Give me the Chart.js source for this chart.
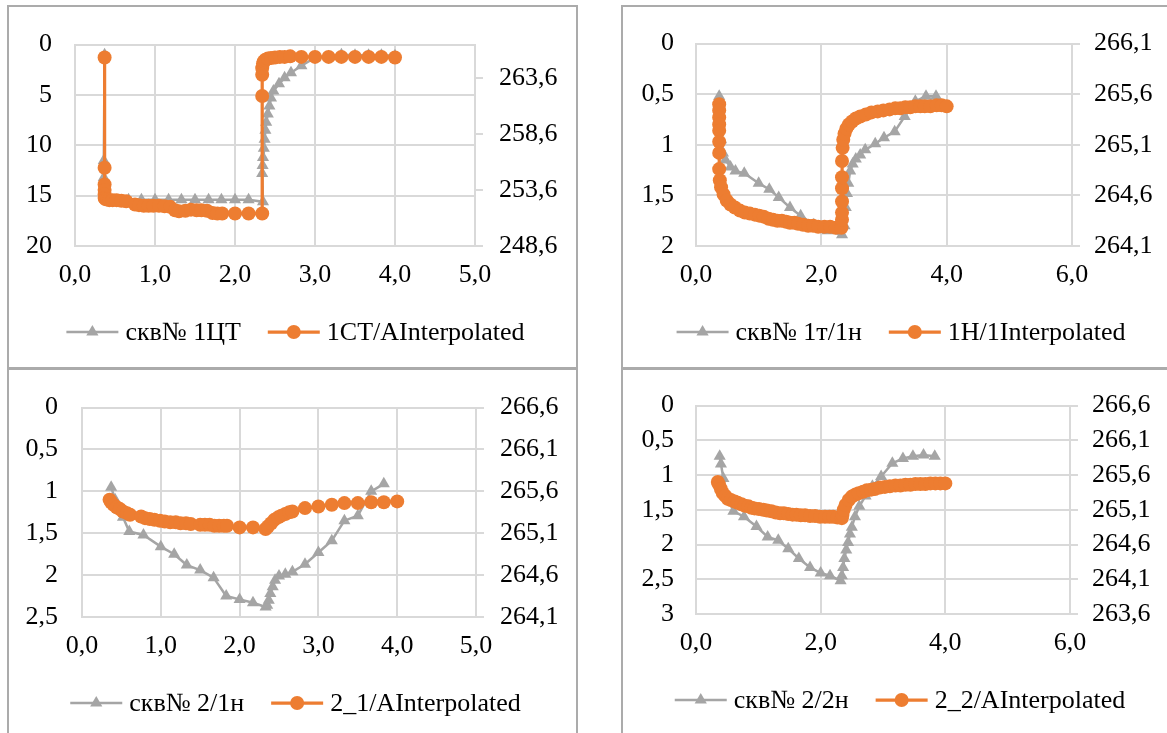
<!DOCTYPE html>
<html>
<head>
<meta charset="utf-8">
<script src="https://cdn.jsdelivr.net/npm/chart.js@4.4.1/dist/chart.umd.min.js"></script>
<style>
  body { margin: 0; background: #fff; width: 1167px; height: 733px; overflow: hidden; position: relative; }
  .frame { position: absolute; border: 2px solid #ababab; box-sizing: border-box; }
  canvas { position: absolute; }
</style>
</head>
<body>
<div class="frame" style="left:7px;top:5px;width:571px;height:365px"></div>
<div class="frame" style="left:621px;top:5px;width:600px;height:365px"></div>
<div class="frame" style="left:7px;top:367px;width:571px;height:400px"></div>
<div class="frame" style="left:621px;top:367px;width:600px;height:400px"></div>

<canvas id="chart1" width="568" height="362" style="left:8px;top:6px"></canvas>
<canvas id="chart2" width="545" height="362" style="left:622px;top:6px"></canvas>
<canvas id="chart3" width="568" height="365" style="left:8px;top:368px"></canvas>
<canvas id="chart4" width="545" height="365" style="left:622px;top:368px"></canvas>

<script>
// panel 1 - скв№ 1ЦТ
const p1GrayX = [0.37, 0.36, 0.36, 0.37, 0.38, 0.40, 0.45, 0.50, 0.67, 0.83, 1.00, 1.17, 1.33, 1.50, 1.67, 1.83, 2.00, 2.17, 2.35, 2.34, 2.345, 2.35, 2.36, 2.37, 2.38, 2.39, 2.41, 2.43, 2.45, 2.48, 2.55, 2.62, 2.70, 2.83, 3.00, 3.17, 3.33, 3.50, 3.67, 3.83, 4.00];
const p1GrayY = [1.0, 11.5, 13.2, 14.6, 15.3, 15.5, 15.5, 15.5, 15.4, 15.4, 15.4, 15.4, 15.4, 15.4, 15.4, 15.4, 15.4, 15.4, 15.6, 12.8, 12.0, 11.2, 10.3, 9.4, 8.5, 7.7, 6.9, 6.1, 5.3, 4.6, 3.9, 3.3, 2.8, 2.1, 1.3, 1.2, 1.0, 1.05, 1.05, 1.05, 1.1];
const p1OrangeX = [0.37, 0.37, 0.37, 0.37, 0.37, 0.37, 0.38, 0.40, 0.43, 0.47, 0.52, 0.58, 0.64, 0.75, 0.80, 0.86, 0.92, 0.98, 1.05, 1.12, 1.19, 1.25, 1.30, 1.38, 1.45, 1.52, 1.58, 1.65, 1.72, 1.78, 1.84, 2.00, 2.17, 2.34, 2.34, 2.34, 2.34, 2.35, 2.36, 2.38, 2.41, 2.45, 2.50, 2.56, 2.62, 2.69, 2.83, 3.00, 3.17, 3.33, 3.50, 3.67, 3.83, 4.00];
const p1OrangeY = [265.45, 255.6, 254.1, 253.6, 253.2, 252.9, 252.8, 252.75, 252.7, 252.7, 252.7, 252.65, 252.6, 252.3, 252.25, 252.2, 252.2, 252.2, 252.2, 252.15, 252.1, 251.8, 251.7, 251.75, 251.85, 251.8, 251.8, 251.75, 251.55, 251.5, 251.5, 251.5, 251.5, 251.5, 262.0, 263.9, 264.5, 264.9, 265.1, 265.25, 265.35, 265.4, 265.45, 265.5, 265.5, 265.55, 265.5, 265.5, 265.5, 265.5, 265.5, 265.5, 265.5, 265.45];
const p1RightTicks = [248.6, 253.6, 258.6, 263.6];

// panel 2 - скв№ 1т/1н
const p2GrayX = [0.37, 0.38, 0.40, 0.43, 0.47, 0.55, 0.63, 0.77, 1.00, 1.17, 1.32, 1.50, 1.67, 1.88, 2.10, 2.33, 2.37, 2.39, 2.41, 2.43, 2.46, 2.50, 2.55, 2.62, 2.70, 2.86, 3.00, 3.17, 3.33, 3.50, 3.67, 3.83];
const p2GrayY = [0.52, 0.75, 0.95, 1.08, 1.15, 1.22, 1.26, 1.28, 1.38, 1.44, 1.52, 1.62, 1.70, 1.79, 1.85, 1.89, 1.80, 1.62, 1.48, 1.38, 1.26, 1.19, 1.14, 1.10, 1.05, 0.99, 0.93, 0.87, 0.72, 0.57, 0.52, 0.52];
const p2OrangeX = [0.37, 0.37, 0.37, 0.37, 0.37, 0.37, 0.37, 0.37, 0.38, 0.40, 0.44, 0.49, 0.55, 0.62, 0.70, 0.78, 0.86, 0.94, 1.01, 1.08, 1.16, 1.23, 1.30, 1.37, 1.44, 1.50, 1.57, 1.63, 1.71, 1.79, 1.87, 1.95, 2.05, 2.14, 2.23, 2.32, 2.33, 2.33, 2.33, 2.33, 2.33, 2.33, 2.34, 2.35, 2.37, 2.40, 2.44, 2.49, 2.55, 2.62, 2.71, 2.80, 2.90, 2.99, 3.09, 3.18, 3.26, 3.34, 3.42, 3.50, 3.58, 3.65, 3.74, 3.84, 3.92, 4.00];
const p2OrangeY = [265.50, 265.44, 265.37, 265.30, 265.24, 265.13, 265.02, 264.86, 264.75, 264.68, 264.61, 264.55, 264.51, 264.48, 264.45, 264.43, 264.42, 264.41, 264.40, 264.39, 264.37, 264.36, 264.35, 264.35, 264.34, 264.33, 264.33, 264.32, 264.31, 264.30, 264.30, 264.29, 264.29, 264.29, 264.28, 264.28, 264.36, 264.43, 264.54, 264.67, 264.78, 264.94, 265.07, 265.15, 265.21, 265.26, 265.30, 265.33, 265.36, 265.38, 265.40, 265.42, 265.43, 265.44, 265.45, 265.46, 265.46, 265.47, 265.47, 265.48, 265.48, 265.48, 265.48, 265.49, 265.49, 265.48];
const p2RightTicks = [264.1, 264.6, 265.1, 265.6, 266.1];

// panel 3 - скв№ 2/1н
const p3GrayX = [0.37, 0.42, 0.47, 0.52, 0.60, 0.78, 1.00, 1.17, 1.33, 1.50, 1.67, 1.83, 2.00, 2.17, 2.33, 2.35, 2.37, 2.39, 2.42, 2.45, 2.50, 2.58, 2.67, 2.83, 3.00, 3.17, 3.33, 3.50, 3.67, 3.83];
const p3GrayY = [0.95, 1.10, 1.22, 1.31, 1.48, 1.52, 1.66, 1.75, 1.88, 1.94, 2.03, 2.25, 2.29, 2.33, 2.38, 2.36, 2.30, 2.22, 2.14, 2.06, 2.01, 1.99, 1.96, 1.87, 1.73, 1.59, 1.35, 1.29, 1.00, 0.91];
const p3OrangeX = [0.35, 0.37, 0.40, 0.44, 0.48, 0.52, 0.57, 0.61, 0.75, 0.80, 0.86, 0.92, 0.99, 1.05, 1.12, 1.19, 1.25, 1.32, 1.38, 1.50, 1.56, 1.62, 1.68, 1.74, 1.80, 1.84, 2.00, 2.17, 2.33, 2.36, 2.40, 2.44, 2.49, 2.53, 2.58, 2.63, 2.67, 2.83, 3.00, 3.17, 3.33, 3.50, 3.67, 3.83, 4.00];
const p3OrangeY = [265.50, 265.47, 265.44, 265.41, 265.39, 265.36, 265.34, 265.32, 265.30, 265.28, 265.27, 265.26, 265.25, 265.24, 265.23, 265.23, 265.22, 265.22, 265.21, 265.20, 265.20, 265.20, 265.19, 265.19, 265.19, 265.19, 265.17, 265.17, 265.15, 265.18, 265.22, 265.26, 265.29, 265.31, 265.33, 265.35, 265.36, 265.40, 265.42, 265.44, 265.46, 265.46, 265.47, 265.47, 265.48];
const p3RightTicks = [264.1, 264.6, 265.1, 265.6, 266.1, 266.6];

// panel 4 - скв№ 2/2н
const p4GrayX = [0.38, 0.40, 0.44, 0.48, 0.60, 0.77, 0.97, 1.15, 1.32, 1.48, 1.65, 1.83, 2.00, 2.15, 2.32, 2.34, 2.36, 2.38, 2.41, 2.44, 2.47, 2.50, 2.55, 2.62, 2.72, 2.83, 2.97, 3.15, 3.32, 3.48, 3.65, 3.83];
const p4GrayY = [0.73, 0.84, 1.05, 1.28, 1.52, 1.60, 1.74, 1.89, 1.94, 2.06, 2.20, 2.33, 2.41, 2.45, 2.52, 2.45, 2.33, 2.20, 2.08, 1.97, 1.85, 1.75, 1.60, 1.45, 1.30, 1.16, 1.02, 0.83, 0.76, 0.73, 0.71, 0.73];
const p4OrangeX = [0.35, 0.37, 0.40, 0.43, 0.47, 0.51, 0.56, 0.62, 0.67, 0.73, 0.78, 0.84, 0.89, 0.94, 1.01, 1.08, 1.14, 1.21, 1.28, 1.35, 1.41, 1.48, 1.55, 1.61, 1.68, 1.75, 1.83, 1.91, 1.99, 2.07, 2.14, 2.20, 2.27, 2.34, 2.35, 2.37, 2.40, 2.45, 2.50, 2.56, 2.61, 2.68, 2.74, 2.81, 2.87, 2.95, 3.03, 3.11, 3.20, 3.28, 3.36, 3.44, 3.52, 3.60, 3.68, 3.76, 3.84, 3.92, 4.00];
const p4OrangeY = [265.50, 265.46, 265.40, 265.34, 265.30, 265.26, 265.24, 265.22, 265.20, 265.18, 265.16, 265.15, 265.13, 265.12, 265.11, 265.10, 265.09, 265.08, 265.06, 265.05, 265.05, 265.04, 265.03, 265.03, 265.02, 265.02, 265.01, 265.01, 265.00, 265.00, 265.00, 265.00, 264.99, 264.98, 265.03, 265.10, 265.17, 265.24, 265.29, 265.32, 265.34, 265.36, 265.38, 265.39, 265.40, 265.42, 265.43, 265.44, 265.45, 265.45, 265.46, 265.46, 265.47, 265.47, 265.47, 265.48, 265.48, 265.48, 265.48];
const p4RightTicks = [263.6, 264.1, 264.6, 265.1, 265.6, 266.1, 266.6];

const GRAY = "#a5a5a5";
const ORANGE = "#ed7d31";
const GRID = "#d9d9d9";
const FONT = "'Liberation Serif', 'Times New Roman', serif";
const FSIZE = 26;

Chart.defaults.font.family = FONT;
Chart.defaults.font.size = FSIZE;
Chart.defaults.color = "#000";

// excel style legend: short line with the marker in the middle
const lineLegend = {
  id: "lineLegend",
  afterDraw(chart, args, opts) {
    const ctx = chart.ctx;
    const LINE = 52;
    ctx.save();
    ctx.font = FSIZE + "px " + FONT;
    const widths = opts.items.map((it) => LINE + 7 + ctx.measureText(it.text).width);
    const total = widths[0] + 27 + widths[1];
    let x = opts.cx - total / 2;
    const y = opts.cy;
    opts.items.forEach((it, i) => {
      const mid = x + LINE / 2;
      ctx.strokeStyle = it.color;
      ctx.lineWidth = it.lineWidth;
      ctx.beginPath();
      ctx.moveTo(x, y);
      ctx.lineTo(x + LINE, y);
      ctx.stroke();
      ctx.fillStyle = it.color;
      ctx.beginPath();
      if (it.marker === "triangle") {
        ctx.moveTo(mid, y - 7);
        ctx.lineTo(mid + 6.1, y + 3.5);
        ctx.lineTo(mid - 6.1, y + 3.5);
        ctx.closePath();
      } else {
        ctx.arc(mid, y, 7, 0, Math.PI * 2);
      }
      ctx.fill();
      ctx.fillStyle = "#000";
      ctx.textBaseline = "middle";
      ctx.textAlign = "left";
      ctx.fillText(it.text, x + LINE + 7, y + 1);
      x += widths[i] + 27;
    });
    ctx.restore();
  },
};

const fmt1 = (v) => Number(v).toFixed(1).replace(".", ",");
const fmtG = (v) => String(Math.round(v * 100) / 100).replace(".", ",");

function makePanel(id, o) {
  new Chart(document.getElementById(id), {
    type: "scatter",
    data: {
      datasets: [
        {
          label: o.grayLabel,
          data: o.grayX.map((x, i) => ({ x: x, y: o.grayY[i] })),
          yAxisID: "y",
          showLine: true,
          borderColor: GRAY,
          backgroundColor: GRAY,
          borderWidth: 2.5,
          pointStyle: "triangle",
          pointRadius: 7,
          pointBorderWidth: 0,
          order: 1,
        },
        {
          label: o.orangeLabel,
          data: o.orangeX.map((x, i) => ({ x: x, y: o.orangeY[i] })),
          yAxisID: "y2",
          showLine: true,
          borderColor: ORANGE,
          backgroundColor: ORANGE,
          borderWidth: 3.25,
          pointStyle: "circle",
          pointRadius: 7,
          pointBorderWidth: 0,
          order: 0,
        },
      ],
    },
    options: {
      responsive: false,
      animation: false,
      events: [],
      layout: { padding: { top: o.padTop, bottom: o.padBottom, left: 0, right: 0 } },
      plugins: {
        legend: { display: false },
        tooltip: { enabled: false },
        lineLegend: {
          cx: o.legendX,
          cy: o.legendY,
          items: [
            { text: o.grayLabel, color: GRAY, lineWidth: 2.5, marker: "triangle" },
            { text: o.orangeLabel, color: ORANGE, lineWidth: 3.25, marker: "circle" },
          ],
        },
      },
      scales: {
        x: {
          type: "linear",
          min: 0,
          max: o.xMax,
          ticks: { stepSize: o.xStep, padding: 14, callback: fmt1 },
          grid: { color: GRID, lineWidth: 2, drawTicks: false },
          border: { color: GRID, width: 2 },
          afterFit: (s) => { s.height = 60; },
        },
        y: {
          position: "left",
          reverse: true,
          min: 0,
          max: o.yMax,
          ticks: { stepSize: o.yStep, padding: o.leftGap, callback: fmtG },
          grid: { color: GRID, lineWidth: 2, drawTicks: false },
          border: { color: GRID, width: 2 },
          afterFit: (s) => { s.width = o.leftW; },
        },
        y2: {
          position: "right",
          min: o.rMin,
          max: o.rMax,
          afterBuildTicks: (s) => { s.ticks = o.rTicks.map((v) => ({ value: v })); },
          ticks: { padding: o.rightGap, callback: fmt1 },
          grid: { drawOnChartArea: false, color: GRID, lineWidth: 2, tickLength: 8 },
          border: { color: GRID, width: 2 },
          afterFit: (s) => { s.width = o.rightW; },
        },
      },
    },
    plugins: [lineLegend],
  });
}

makePanel("chart1", {
  grayLabel: "скв№ 1ЦТ", orangeLabel: "1CT/AInterpolated",
  grayX: p1GrayX, grayY: p1GrayY, orangeX: p1OrangeX, orangeY: p1OrangeY,
  xMax: 5, xStep: 1, yMax: 20, yStep: 5,
  rMin: 248.6, rMax: 266.6, rTicks: p1RightTicks,
  leftW: 67, rightW: 101, leftGap: 23, rightGap: 16, padTop: 29, padBottom: 62,
  legendX: 287.5, legendY: 326,
});

makePanel("chart2", {
  grayLabel: "скв№ 1т/1н", orangeLabel: "1H/1Interpolated",
  grayX: p2GrayX, grayY: p2GrayY, orangeX: p2OrangeX, orangeY: p2OrangeY,
  xMax: 6, xStep: 2, yMax: 2, yStep: 0.5,
  rMin: 264.1, rMax: 266.1, rTicks: p2RightTicks,
  leftW: 74, rightW: 95, leftGap: 22, rightGap: 14, padTop: 29, padBottom: 62,
  legendX: 279, legendY: 326,
});

makePanel("chart3", {
  grayLabel: "скв№ 2/1н", orangeLabel: "2_1/AInterpolated",
  grayX: p3GrayX, grayY: p3GrayY, orangeX: p3OrangeX, orangeY: p3OrangeY,
  xMax: 5, xStep: 1, yMax: 2.5, yStep: 0.5,
  rMin: 264.1, rMax: 266.6, rTicks: p3RightTicks,
  leftW: 74, rightW: 100, leftGap: 24, rightGap: 16, padTop: 31, padBottom: 56,
  legendX: 287.5, legendY: 335,
});

makePanel("chart4", {
  grayLabel: "скв№ 2/2н", orangeLabel: "2_2/AInterpolated",
  grayX: p4GrayX, grayY: p4GrayY, orangeX: p4OrangeX, orangeY: p4OrangeY,
  xMax: 6, xStep: 2, yMax: 3, yStep: 0.5,
  rMin: 263.6, rMax: 266.6, rTicks: p4RightTicks,
  leftW: 74, rightW: 97, leftGap: 22, rightGap: 14, padTop: 31, padBottom: 59,
  legendX: 278, legendY: 332,
});
</script>
</body>
</html>
